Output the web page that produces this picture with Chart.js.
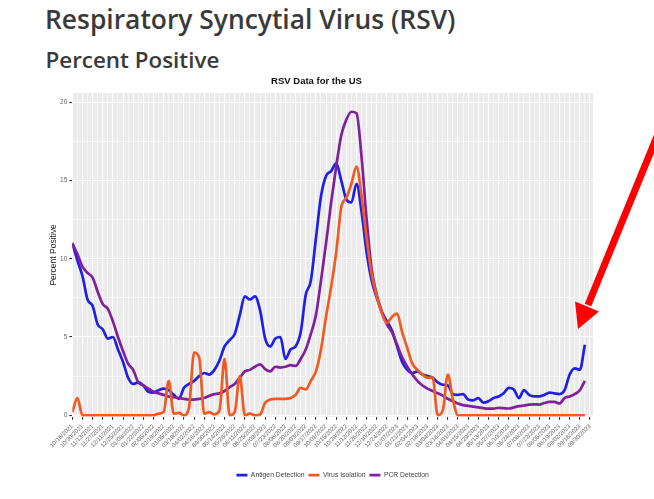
<!DOCTYPE html>
<html>
<head>
<meta charset="utf-8">
<title>RSV Percent Positive</title>
<script src="https://cdn.jsdelivr.net/npm/chart.js@4.4.1/dist/chart.umd.min.js"></script>
<style>
  html, body { margin: 0; padding: 0; background: #fff; width: 654px; height: 499px; overflow: hidden; }
  #page { position: relative; width: 654px; height: 499px; }
  .heading { position: absolute; margin: 0; font-family: "Open Sans", sans-serif; font-weight: 600; color: #3a3a3a; white-space: nowrap; }
  #h1 { left: 45px; top: 6px; font-size: 26.4px; line-height: 26.4px; }
  #h2 { left: 45.5px; top: 49px; font-size: 22.4px; line-height: 22.4px; }
  #chart { position: absolute; left: 0; top: 0; }
  #arrow { position: absolute; left: 0; top: 0; }
</style>
</head>
<body>
<div id="page">
  <div id="h1" class="heading">Respiratory Syncytial Virus (RSV)</div>
  <div id="h2" class="heading">Percent Positive</div>
  <canvas id="chart" width="654" height="499"></canvas>
  <svg id="arrow" width="654" height="499">
    <line x1="660" y1="129" x2="588" y2="305" stroke="#ff0000" stroke-width="7" />
    <polygon points="578,329 575,301.5 599,311.5" fill="#ff0000" />
  </svg>
</div>

<script>
// biweekly tick labels, one per second week (weeks start 10/16/2021)
const tickDates = [
  "10/16/2021", "10/30/2021", "11/13/2021", "11/27/2021", "12/11/2021", "12/25/2021",
  "01/08/2022", "01/22/2022", "02/05/2022", "02/19/2022", "03/05/2022", "03/19/2022",
  "04/02/2022", "04/16/2022", "04/30/2022", "05/14/2022", "05/28/2022", "06/11/2022",
  "06/25/2022", "07/09/2022", "07/23/2022", "08/06/2022", "08/20/2022", "09/03/2022",
  "09/17/2022", "10/01/2022", "10/15/2022", "10/29/2022", "11/12/2022", "11/26/2022",
  "12/10/2022", "12/24/2022", "01/07/2023", "01/21/2023", "02/04/2023", "02/18/2023",
  "03/04/2023", "03/18/2023", "04/01/2023", "04/15/2023", "04/29/2023", "05/13/2023",
  "05/27/2023", "06/10/2023", "06/24/2023", "07/08/2023", "07/22/2023", "08/05/2023",
  "08/19/2023", "09/02/2023", "09/16/2023", "09/30/2023"
];

// weekly percent positive, week 0 = 10/16/2021
const antigen = [
  11.0, 9.9, 8.9, 7.4, 7.0, 5.8, 5.5, 4.9, 5.0, 4.2,
  3.4, 2.4, 2.0, 2.1, 1.9, 1.5, 1.45, 1.6, 1.7, 1.6,
  1.3, 1.05, 1.75, 2.0, 2.2, 2.5, 2.7, 2.6, 2.9, 3.5,
  4.4, 4.8, 5.2, 6.4, 7.6, 7.4, 7.6, 6.7, 4.9, 4.4,
  4.9, 5.0, 3.6, 4.2, 4.4, 5.3, 7.7, 8.6, 11.3, 14.0,
  15.3, 15.6, 16.1, 15.0, 13.8, 13.6, 14.8, 13.0, 10.4, 8.6,
  7.5, 6.6, 6.0, 5.4, 4.4, 3.4, 2.9, 2.7, 2.8, 2.6,
  2.5, 2.4, 2.1, 1.95, 1.9, 1.35, 1.3, 1.35, 1.0, 0.95,
  1.1, 0.8, 0.9, 1.1, 1.2, 1.4, 1.75, 1.65, 1.1, 1.6,
  1.3, 1.2, 1.2, 1.3, 1.45, 1.4, 1.35, 1.6, 2.6, 3.0,
  2.9, 4.5
];

const virus = [
  0.2, 1.1, 0, 0, 0, 0, 0, 0, 0, 0,
  0, 0, 0, 0, 0, 0, 0, 0.1, 0.2, 2.2,
  0.1, 0.15, 0, 0.5, 4.0, 3.7, 0.1, 0.2, 0.05, 0.3,
  3.6, 0, 0.2, 2.5, 0, 0.1, 0, 0.05, 0.8, 1.0,
  1.05, 1.05, 1.05, 1.1, 1.3, 1.75, 1.65, 2.2, 2.8, 4.2,
  6.3, 8.2, 10.4, 13.3, 13.9, 14.8, 15.9, 14.0, 11.3, 9.0,
  7.6, 6.5, 5.9, 6.3, 6.5, 5.3, 4.3, 3.3, 2.9, 2.6,
  2.4, 2.4, 0, 0.3, 2.6, 1.0, 0, 0, 0, 0,
  0, 0, 0, 0, 0, 0, 0, 0, 0, 0,
  0, 0, 0, 0, 0, 0, 0, 0, 0, 0,
  0, 0
];

const pcr = [
  11.0, 10.3, 9.5, 9.1, 8.8, 7.9, 7.1, 6.8, 6.0, 5.0,
  4.1, 3.3, 2.9, 2.1, 1.9, 1.7, 1.5, 1.4, 1.3, 1.2,
  1.15, 1.1, 1.05, 1.0, 1.0, 1.05, 1.1, 1.25, 1.35, 1.4,
  1.55, 1.8, 2.0, 2.4, 2.8, 2.9, 3.1, 3.25, 2.95, 2.8,
  3.1, 3.05, 3.1, 3.2, 3.15, 3.6, 4.2, 5.2, 6.4, 8.6,
  11.0, 13.6, 15.9, 17.9, 18.9, 19.4, 19.3, 16.5, 12.5, 9.3,
  7.7, 6.6, 5.8, 5.3, 4.5, 3.7, 3.1, 2.6, 2.2, 1.9,
  1.7, 1.55, 1.4, 1.25, 1.05, 0.9, 0.75, 0.65, 0.6, 0.55,
  0.5, 0.45, 0.42, 0.42, 0.47, 0.45, 0.43, 0.5, 0.58, 0.62,
  0.68, 0.7, 0.68, 0.78, 0.85, 0.85, 0.75, 1.1, 1.2, 1.35,
  1.6, 2.2
];

const seriesNames = ["Antigen Detection", "Virus Isolation", "PCR Detection"];
const seriesColors = ["#1f1fe6", "#f15a22", "#821f9c"];

const FONT = "'Liberation Sans', Arial, sans-serif";
Chart.defaults.font.family = FONT;

const toPoints = arr => arr.map((v, i) => ({ x: i, y: v }));

// ggplot style grey panel behind the grid
const panelBg = {
  id: "panelBg",
  beforeDraw(chart) {
    const { ctx, chartArea: a } = chart;
    ctx.save();
    ctx.fillStyle = "#ebebeb";
    ctx.fillRect(a.left, a.top, a.right - a.left, a.bottom - a.top);
    ctx.restore();
  }
};

const isMajorX = v => Number.isInteger(v) && v % 2 === 0;
const isMajorY = v => Math.abs(v % 5) < 1e-9;

const makeSet = (i, values, order) => ({
  label: seriesNames[i],
  data: toPoints(values),
  borderColor: seriesColors[i],
  backgroundColor: seriesColors[i],
  borderWidth: 2.7,
  pointRadius: 0,
  cubicInterpolationMode: "monotone",
  order: order
});

new Chart(document.getElementById("chart"), {
  type: "line",
  data: {
    datasets: [
      makeSet(0, antigen, 2),
      makeSet(1, virus, 0),
      makeSet(2, pcr, 1)
    ]
  },
  options: {
    responsive: false,
    animation: false,
    devicePixelRatio: 1,
    layout: { padding: { left: 40, right: 61, top: 0, bottom: 10.5 } },
    plugins: {
      tooltip: { enabled: false },
      title: {
        display: true,
        text: "RSV Data for the US",
        color: "#111",
        font: { size: 9.5, weight: "bold" },
        padding: { top: 76, bottom: 5.6 }
      },
      legend: {
        position: "bottom",
        fullSize: false,
        labels: {
          usePointStyle: true,
          pointStyle: "line",
          pointStyleWidth: 11,
          color: "#444",
          font: { size: 6.8 },
          padding: 4,
          sort: (a, b) => a.datasetIndex - b.datasetIndex
        }
      }
    },
    scales: {
      x: {
        type: "linear",
        min: 0,
        max: 102.6,
        border: { display: false },
        grid: {
          color: c => Number.isInteger(c.tick.value) ? "#ffffff" : "rgba(0,0,0,0)",
          lineWidth: c => isMajorX(c.tick.value) ? 1.1 : 0.6,
          tickColor: c => isMajorX(c.tick.value) ? "#333" : "rgba(0,0,0,0)",
          tickLength: 3
        },
        ticks: {
          stepSize: 1,
          includeBounds: false,
          autoSkip: false,
          minRotation: 45,
          maxRotation: 45,
          padding: 3,
          color: "#666",
          font: { size: 6 },
          callback: v => isMajorX(v) ? (tickDates[v / 2] || "") : ""
        },
        afterFit: s => { s.height = 50.9; }
      },
      y: {
        min: -0.1,
        max: 20.6,
        border: { display: false },
        grid: {
          color: "#ffffff",
          lineWidth: c => isMajorY(c.tick.value) ? 1.1 : 0.6,
          tickColor: c => isMajorY(c.tick.value) ? "#333" : "rgba(0,0,0,0)",
          tickLength: 3
        },
        ticks: {
          stepSize: 2.5,
          includeBounds: false,
          padding: 2,
          color: "#666",
          font: { size: 6.5 },
          callback: v => isMajorY(v) ? String(v) : ""
        },
        title: {
          display: true,
          text: "Percent Positive",
          color: "#222",
          font: { size: 8.5 },
          padding: { top: 8.4, bottom: 0 }
        },
        afterFit: s => { s.width = 32.3; }
      }
    }
  },
  plugins: [panelBg]
});
</script>
</body>
</html>
